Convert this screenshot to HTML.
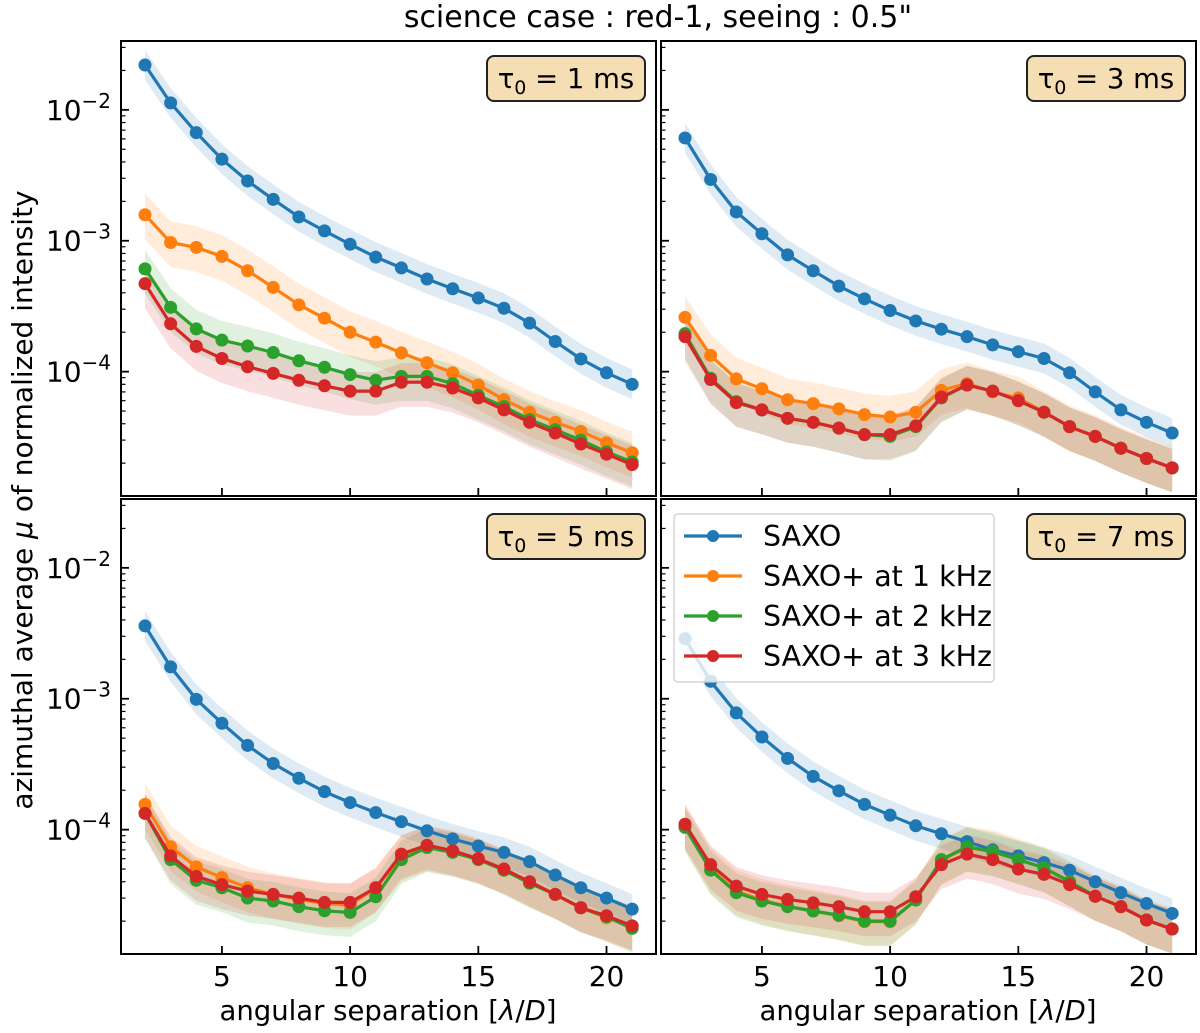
<!DOCTYPE html>
<html><head><meta charset="utf-8"><style>
html,body{margin:0;padding:0;background:#fff;}
svg{display:block;font-family:"DejaVu Sans","Liberation Sans",sans-serif;}
</style></head><body>
<svg id="fig" width="1200" height="1033" viewBox="0 0 1200 1033" xmlns="http://www.w3.org/2000/svg">
<text x="658" y="27" font-size="30" text-anchor="middle">science case : red-1, seeing : 0.5"</text>
<text transform="translate(32,500) rotate(-90)" font-size="28" text-anchor="middle">azimuthal average <tspan font-style="italic">μ</tspan> of normalized intensity</text>
<text x="388" y="1020" font-size="27.5" text-anchor="middle">angular separation [<tspan font-style="italic">λ</tspan>/<tspan font-style="italic">D</tspan>]</text>
<text x="928" y="1020" font-size="27.5" text-anchor="middle">angular separation [<tspan font-style="italic">λ</tspan>/<tspan font-style="italic">D</tspan>]</text>
</svg>
<script>
const separations = [2,3,4,5,6,7,8,9,10,11,12,13,14,15,16,17,18,19,20,21];
const seriesNames = ["SAXO","SAXO+ at 1 kHz","SAXO+ at 2 kHz","SAXO+ at 3 kHz"];
const tauLabels = ["1","3","5","7"];
const xTicks = [5,10,15,20];
const yTickExponents = [-2,-3,-4];

const tau1Saxo = [2.2e-2,1.13e-2,6.7e-3,4.2e-3,2.86e-3,2.07e-3,1.52e-3,1.19e-3,9.4e-4,7.5e-4,6.2e-4,5.1e-4,4.3e-4,3.65e-4,3.05e-4,2.35e-4,1.7e-4,1.25e-4,9.8e-5,8.0e-5];
const tau1Plus1 = [1.58e-3,9.7e-4,8.9e-4,7.6e-4,5.9e-4,4.4e-4,3.24e-4,2.56e-4,2.0e-4,1.68e-4,1.39e-4,1.17e-4,9.8e-5,7.9e-5,6.1e-5,4.9e-5,4.1e-5,3.5e-5,2.86e-5,2.4e-5];
const tau1Plus2 = [6.1e-4,3.1e-4,2.12e-4,1.74e-4,1.57e-4,1.4e-4,1.21e-4,1.08e-4,9.5e-5,8.6e-5,9.2e-5,9.2e-5,8.1e-5,6.6e-5,5.4e-5,4.3e-5,3.6e-5,3.0e-5,2.44e-5,2.04e-5];
const tau1Plus3 = [4.7e-4,2.32e-4,1.56e-4,1.26e-4,1.09e-4,9.7e-5,8.6e-5,7.8e-5,7.1e-5,7.1e-5,8.3e-5,8.3e-5,7.5e-5,6.3e-5,5.1e-5,4.1e-5,3.4e-5,2.8e-5,2.34e-5,1.95e-5];

const tau3Saxo = [6.1e-3,2.94e-3,1.66e-3,1.13e-3,7.8e-4,5.9e-4,4.5e-4,3.6e-4,2.93e-4,2.44e-4,2.11e-4,1.85e-4,1.6e-4,1.42e-4,1.26e-4,9.8e-5,7.0e-5,5.1e-5,4.1e-5,3.4e-5];
const tau3Plus1 = [2.6e-4,1.33e-4,8.8e-5,7.4e-5,6.1e-5,5.7e-5,5.2e-5,4.7e-5,4.5e-5,4.9e-5,7.2e-5,8.1e-5,7.0e-5,6.3e-5,4.9e-5,3.8e-5,3.2e-5,2.6e-5,2.17e-5,1.84e-5];
const tau3Plus2 = [1.95e-4,8.9e-5,5.9e-5,5.1e-5,4.4e-5,4.1e-5,3.7e-5,3.3e-5,3.2e-5,3.8e-5,6.3e-5,7.9e-5,7.1e-5,6.0e-5,4.9e-5,3.8e-5,3.2e-5,2.6e-5,2.17e-5,1.84e-5];
const tau3Plus3 = [1.85e-4,8.7e-5,5.8e-5,5.1e-5,4.4e-5,4.1e-5,3.7e-5,3.3e-5,3.3e-5,3.85e-5,6.4e-5,7.9e-5,7.1e-5,6.0e-5,4.9e-5,3.8e-5,3.2e-5,2.6e-5,2.17e-5,1.84e-5];

const tau5Saxo = [3.6e-3,1.75e-3,9.9e-4,6.5e-4,4.4e-4,3.2e-4,2.47e-4,1.95e-4,1.61e-4,1.35e-4,1.15e-4,9.8e-5,8.5e-5,7.5e-5,6.7e-5,5.7e-5,4.5e-5,3.6e-5,3.0e-5,2.47e-5];
const tau5Plus1 = [1.56e-4,7.4e-5,5.2e-5,4.3e-5,3.6e-5,3.2e-5,2.93e-5,2.73e-5,2.65e-5,3.6e-5,6.2e-5,7.4e-5,6.8e-5,6.0e-5,4.9e-5,3.9e-5,3.2e-5,2.53e-5,2.12e-5,1.83e-5];
const tau5Plus2 = [1.33e-4,5.9e-5,4.1e-5,3.6e-5,3.0e-5,2.85e-5,2.58e-5,2.4e-5,2.33e-5,3.07e-5,5.9e-5,7.3e-5,6.7e-5,5.9e-5,4.9e-5,3.9e-5,3.2e-5,2.53e-5,2.16e-5,1.76e-5];
const tau5Plus3 = [1.33e-4,6.3e-5,4.4e-5,3.8e-5,3.4e-5,3.2e-5,3.0e-5,2.78e-5,2.78e-5,3.6e-5,6.5e-5,7.6e-5,6.9e-5,6.0e-5,5.0e-5,4.0e-5,3.2e-5,2.53e-5,2.2e-5,1.84e-5];

const tau7Saxo = [2.88e-3,1.36e-3,7.8e-4,5.1e-4,3.5e-4,2.55e-4,1.98e-4,1.56e-4,1.29e-4,1.07e-4,9.3e-5,8.1e-5,7.0e-5,6.3e-5,5.6e-5,4.9e-5,4.0e-5,3.3e-5,2.73e-5,2.29e-5];
const tau7Plus1 = [1.08e-4,5.0e-5,3.4e-5,2.9e-5,2.6e-5,2.4e-5,2.2e-5,1.98e-5,1.98e-5,2.9e-5,5.8e-5,7.3e-5,6.8e-5,5.9e-5,5.1e-5,4.0e-5,3.1e-5,2.58e-5,2.04e-5,1.74e-5];
const tau7Plus2 = [1.04e-4,4.9e-5,3.3e-5,2.85e-5,2.58e-5,2.39e-5,2.22e-5,2.0e-5,2.0e-5,2.9e-5,5.9e-5,7.4e-5,6.8e-5,5.9e-5,5.1e-5,4.0e-5,3.1e-5,2.58e-5,2.04e-5,1.74e-5];
const tau7Plus3 = [1.1e-4,5.4e-5,3.7e-5,3.2e-5,2.93e-5,2.76e-5,2.58e-5,2.36e-5,2.36e-5,3.07e-5,5.4e-5,6.5e-5,5.9e-5,5.0e-5,4.55e-5,3.8e-5,3.1e-5,2.58e-5,2.04e-5,1.74e-5];

const bandUpper = [1.3,1.45,1.4,1.4];
const bandLower = [0.77,0.65,0.65,0.65];

const panelData = [
  [tau1Saxo,tau1Plus1,tau1Plus2,tau1Plus3],
  [tau3Saxo,tau3Plus1,tau3Plus2,tau3Plus3],
  [tau5Saxo,tau5Plus1,tau5Plus2,tau5Plus3],
  [tau7Saxo,tau7Plus1,tau7Plus2,tau7Plus3]
];
const colors = ["#1f77b4","#ff7f0e","#2ca02c","#d62728"];
const NS = "http://www.w3.org/2000/svg";
const svg = document.getElementById("fig");
function mk(tag, attrs, parent){
  const e = document.createElementNS(NS, tag);
  for (const k in attrs) e.setAttribute(k, attrs[k]);
  (parent||svg).appendChild(e);
  return e;
}
const panels = [{x:121,y:41},{x:661,y:41},{x:121,y:499},{x:661,y:499}];
const PW = 535, PH = 455;
const xMin = 2 - 24/25.64, xMax = xMin + PW/25.64;
const logMax = -1.474, logMin = -4.95;

panels.forEach((p, pi) => {
  const g = mk("g", {});
  
  
  const sx = v => p.x + (v - xMin) / (xMax - xMin) * PW;
  const sy = v => p.y + (logMax - Math.log10(v)) / (logMax - logMin) * PH;
  const clipId = "clip" + pi;
  const cp = mk("clipPath", {id: clipId}, g);
  mk("rect", {x:p.x, y:p.y, width:PW, height:PH}, cp);
  const plot = mk("g", {"clip-path": "url(#" + clipId + ")"}, g);
  panelData[pi].forEach((vals, si) => {
    let d = "";
    vals.forEach((v,i) => { d += (i?"L":"M") + sx(separations[i]).toFixed(1) + "," + sy(v*bandUpper[si]).toFixed(1); });
    for (let i = vals.length-1; i >= 0; i--) d += "L" + sx(separations[i]).toFixed(1) + "," + sy(vals[i]*bandLower[si]).toFixed(1);
    const b = mk("path", {d: d + "Z", fill: colors[si], "fill-opacity": 0.15, stroke: "none"}, plot);
    
    
  });
  panelData[pi].forEach((vals, si) => {
    const pts = vals.map((v,i) => sx(separations[i]).toFixed(1) + "," + sy(v).toFixed(1)).join(" ");
    const l = mk("polyline", {points: pts, fill: "none", stroke: colors[si], "stroke-width": 3.2}, plot);
    
    
    vals.forEach((v,i) => {
      const c = mk("circle", {cx: sx(separations[i]), cy: sy(v), r: 6.5, fill: colors[si]}, plot);
      
      
    });
  });
  const fr = mk("rect", {x:p.x, y:p.y, width:PW, height:PH, fill:"none", stroke:"#000", "stroke-width":2}, g);
  
  
  for (let e = -5; e <= -1; e++) {
    for (let m = 1; m <= 9; m++) {
      const v = m * Math.pow(10, e);
      const L = Math.log10(v);
      if (L > logMax || L < logMin) continue;
      const yy = sy(v);
      mk("line", {x1:p.x, x2:p.x + (m===1?8:4.5), y1:yy, y2:yy, stroke:"#000", "stroke-width": m===1?1.8:1.2}, g);
    }
  }
  if (pi % 2 === 0) {
    yTickExponents.forEach(e => {
      const t = mk("text", {x: p.x - 10, y: sy(Math.pow(10,e)) + 10, "font-size": 28, "text-anchor": "end"}, g);
      
      
      t.textContent = "10";
      const s = mk("tspan", {dy: -12, "font-size": 20}, t);
      s.textContent = "−" + (-e);
    });
  }
  xTicks.forEach(v => {
    const xx = sx(v);
    mk("line", {x1:xx, x2:xx, y1:p.y+PH, y2:p.y+PH-8, stroke:"#000", "stroke-width":1.8}, g);
    if (pi >= 2) {
      const t = mk("text", {x: xx, y: 986, "font-size": 28, "text-anchor": "middle"}, g);
      
      
      t.textContent = v;
    }
  });
  const bx = p.x + PW - 11 - 158, by = p.y + 15;
  const tb = mk("rect", {x:bx, y:by, width:158, height:45, rx:7, fill:"#f5deb3", stroke:"#222", "stroke-width":2}, g);
  
  
  const tt = mk("text", {x: bx + 79, y: by + 32, "font-size": 27.5, "text-anchor": "middle"}, g);
  
  
  tt.textContent = "τ";
  const sub = mk("tspan", {dy: 6, "font-size": 19}, tt); sub.textContent = "0";
  const rest = mk("tspan", {dy: -6}, tt); rest.textContent = " = " + tauLabels[pi] + " ms";
});

const lg = mk("g", {});


mk("rect", {x:674, y:514, width:320, height:168, rx:4, fill:"#fff", "fill-opacity":0.8, stroke:"#ccc", "stroke-width":1.2}, lg);
seriesNames.forEach((n, i) => {
  const yy = 536 + i*40;
  const e = mk("g", {}, lg);
  
  
  mk("line", {x1:684, x2:742, y1:yy, y2:yy, stroke:colors[i], "stroke-width":3.2}, e);
  mk("circle", {cx:713, cy:yy, r:6, fill:colors[i]}, e);
  const t = mk("text", {x:763, y:yy+10, "font-size":28.5}, e);
  t.textContent = n;
});
</script>
</body></html>
